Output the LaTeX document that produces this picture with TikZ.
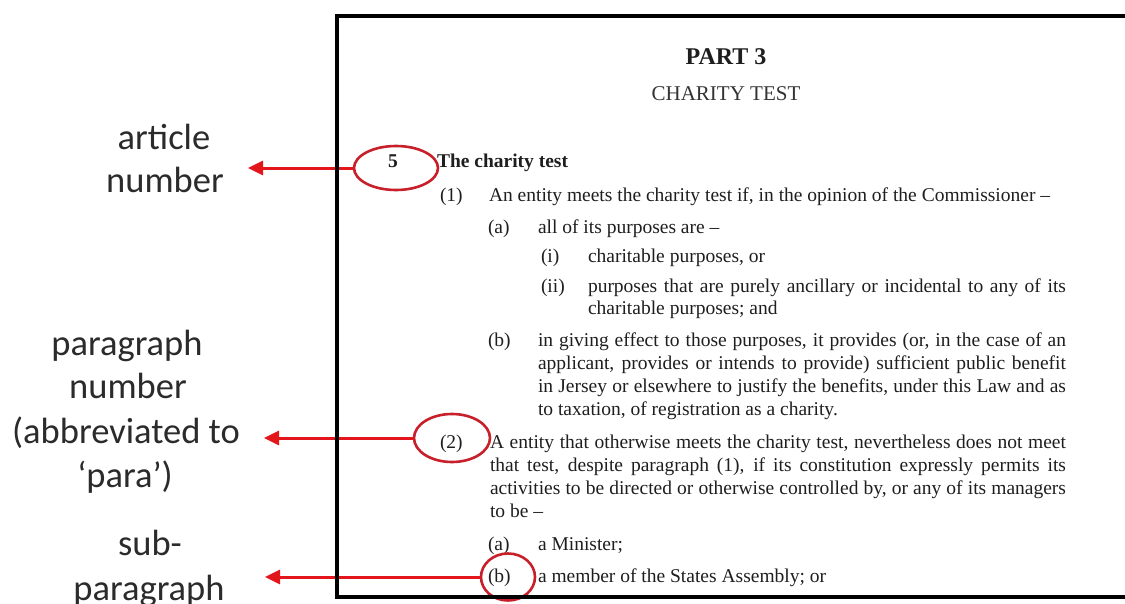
\documentclass[tikz,border=0pt]{standalone}
\usepackage{fontspec}
\setmainfont{Liberation Serif}
\newfontfamily\labfont{Carlito}
\usetikzlibrary{shapes.geometric,arrows.meta}
\definecolor{arrowred}{HTML}{E3161B}
\definecolor{ringred}{HTML}{C8202B}
\definecolor{inkc}{HTML}{1E1E1E}
\definecolor{labc}{HTML}{2B2B2B}
\newcommand{\bodyf}{\fontsize{19.5}{23}\selectfont}
\newcommand{\jl}[2]{\makebox[#1pt][s]{#2}}
\begin{document}
\begin{tikzpicture}[x=1pt,y=-1pt,
 txt/.style={anchor=base west, inner sep=0pt, outer sep=0pt, font=\bodyf, text=inkc},
 lab/.style={anchor=base, inner sep=0pt, font=\labfont\fontsize{36.5}{44}\selectfont, text=labc},
 ring/.style={draw=ringred, line width=2.6pt, ellipse, inner sep=0pt},
 ptr/.style={draw=arrowred, line width=3pt, -{Triangle[length=15pt,width=14pt]}},
 frame/.style={draw=black, line width=4pt}]
\useasboundingbox (0,0) rectangle (1125,603);

% heading
\node[anchor=base, inner sep=0pt, font=\bfseries\fontsize{24}{28}\selectfont, text=inkc] (h1) at (726,64) {PART 3};
\node[anchor=base, inner sep=0pt, font=\fontsize{21}{25}\selectfont, text=black!80] (h2) at (726,100) {CHARITY TEST};

% article 5
\node[txt] (n5) at (388,167) {\textbf{5}};
\node[txt] (t5) at (437,167) {\textbf{The charity test}};

% para (1)
\node[txt] (p1) at (440,201) {(1)};
\node[txt] (p1t) at (489,201) {An entity meets the charity test if, in the opinion of the Commissioner –};
\node[txt] (p1a) at (488,233) {(a)};
\node[txt] (p1at) at (538,233) {all of its purposes are –};
\node[txt] (pi) at (541,262) {(i)};
\node[txt] (pit) at (588,262) {charitable purposes, or};
\node[txt] (pii) at (541,292) {(ii)};
\node[txt] (piit) at (588,292) {\jl{478}{purposes that are purely ancillary or incidental to any of its}};
\node[txt] (piit2) at (588,314) {charitable purposes; and};
\node[txt] (p1b) at (488,346) {(b)};
\node[txt] (p1bt) at (538,346) {\jl{528}{in giving effect to those purposes, it provides (or, in the case of an}};
\node[txt] (p1bt2) at (538,369) {\jl{528}{applicant, provides or intends to provide) sufficient public benefit}};
\node[txt] (p1bt3) at (538,392) {\jl{528}{in Jersey or elsewhere to justify the benefits, under this Law and as}};
\node[txt] (p1bt4) at (538,415) {to taxation, of registration as a charity.};

% para (2)
\node[txt] (p2) at (440,448) {(2)};
\node[txt] (p2t) at (490,448) {\jl{576}{A entity that otherwise meets the charity test, nevertheless does not meet}};
\node[txt] (p2t2) at (490,471) {\jl{576}{that test, despite paragraph (1), if its constitution expressly permits its}};
\node[txt] (p2t3) at (490,494) {\jl{576}{activities to be directed or otherwise controlled by, or any of its managers}};
\node[txt] (p2t4) at (490,517) {to be –};
\node[txt] (p2a) at (488,550) {(a)};
\node[txt] (p2at) at (538,550) {a Minister;};
\node[txt] (p2b) at (488,582) {(b)};
\node[txt] (p2bt) at (538,582) {a member of the States Assembly; or};

% rings
\node[ring, minimum width=84pt, minimum height=44pt] (e1) at (396,168) {};
\node[ring, minimum width=76pt, minimum height=48pt] (e2) at (452,438) {};
\node[ring, minimum width=54pt, minimum height=47pt] (e3) at (508,577) {};

% labels
\node[lab] (l1a) at (164,149) {article};
\node[lab] (l1b) at (165,192) {number};
\node[lab] (l2a) at (127,355) {paragraph};
\node[lab] (l2b) at (128,398) {number};
\node[lab] (l2c) at (126,443) {(abbreviated to};
\node[lab] (l2d) at (125,487) {‘para’)};
\node[lab] (l3a) at (150,555) {sub-};
\node[lab] (l3b) at (149,600) {paragraph};

% pointers
\coordinate (a1) at (248,168);
\coordinate (a2) at (264,438);
\coordinate (a3) at (265,577);
\draw[ptr] (e1.west) -- (a1);
\draw[ptr] (e2.west) -- (a2);
\draw[ptr] (e3.west) -- (a3);

% page frame
\draw[frame] (1140,16) -- (337,16) -- (337,597) -- (1140,597);
\end{tikzpicture}
\end{document}
